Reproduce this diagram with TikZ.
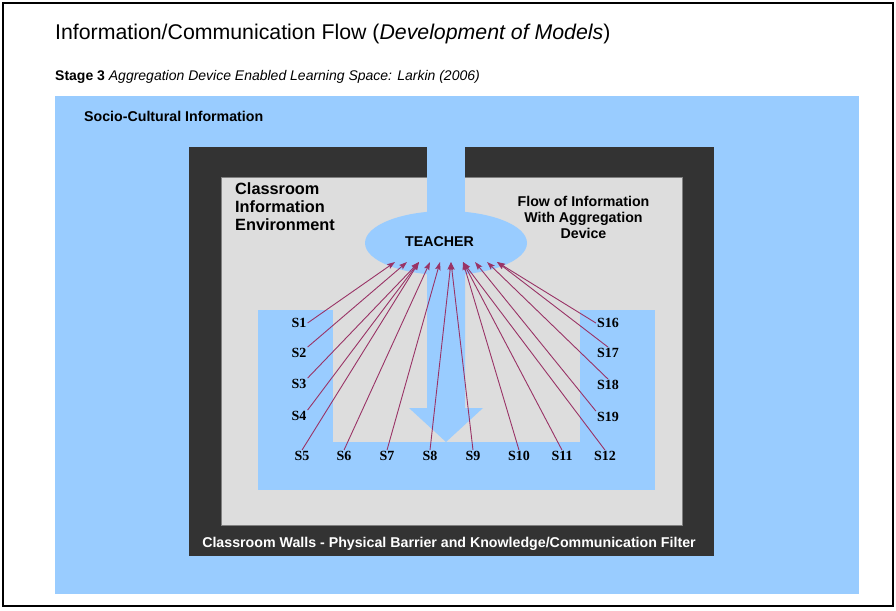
\documentclass[tikz,border=0pt]{standalone}
\usepackage{fontspec}
\setmainfont{Liberation Sans}
\newfontfamily\slabelfont{Liberation Serif}
\usetikzlibrary{arrows.meta,shapes.geometric}
\definecolor{skyfill}{HTML}{99CCFF}
\definecolor{wallgrey}{HTML}{333333}
\definecolor{roomgrey}{HTML}{DDDDDD}
\definecolor{flowred}{HTML}{993366}
\tikzset{
  slabel/.style={font=\slabelfont\bfseries\fontsize{14}{14}\selectfont, inner sep=1pt},
  flow/.style={draw=flowred, line width=0.9pt, -{Stealth[length=8pt,width=5.5pt,inset=1.5pt]}},
  boldtxt/.style={font=\bfseries\fontsize{14.2}{16}\selectfont, inner sep=0pt},
}
\begin{document}
\begin{tikzpicture}[x=1pt,y=-1pt]
\useasboundingbox (0,0) rectangle (896,610);
% page frame
\fill[white] (0,0) rectangle (896,610);
\draw[line width=2.5pt] (3,3) rectangle (893,606);

% socio-cultural surround
\fill[skyfill] (55,96) rectangle (859,594);
% classroom walls and floor
\fill[wallgrey] (189,147) rectangle (714,556);
\filldraw[fill=roomgrey, draw=gray, line width=0.6pt] (221,177) rectangle (682,525);
% U-shaped learning space
\fill[skyfill] (258,310) rectangle (655,490);
\fill[roomgrey] (333,310) rectangle (580,442);
% opening in the wall, channel, teacher and downward flow
\fill[skyfill] (427,146) rectangle (465,243);
\fill[skyfill] (427,243) -- (465,243) -- (465,408) -- (483,408) -- (446,442)
  -- (409,408) -- (427,408) -- cycle;
\node[ellipse, fill=skyfill, minimum width=162pt, minimum height=64pt, inner sep=0pt] (teacher) at (446,243) {};
\node[boldtxt, anchor=base] (teachertxt) at (439.5,246) {TEACHER};

% headings
\node[anchor=base west, inner sep=0pt, font=\fontsize{21.3}{24}\selectfont] (title) at (55,40)
  {Information/Communication Flow (\textit{Development of Models})};
\node[anchor=base west, inner sep=0pt, font=\fontsize{14}{16}\selectfont] (subtitle) at (55,80)
  {\textbf{Stage 3} \textit{Aggregation Device Enabled Learning Space: Larkin (2006)}};
\node[boldtxt, anchor=base west] (socio) at (84,121.5) {Socio-Cultural Information};
% multi-line labels: the base anchor sits on the last line
\node[anchor=base west, inner sep=0pt, align=left, font=\bfseries\fontsize{16.3}{18}\selectfont] (cie) at (235,230.5)
  {Classroom\\Information\\Environment};
\node[anchor=base, align=center, inner sep=0pt, font=\bfseries\fontsize{14.2}{16}\selectfont] (flowinfo) at (583.5,238)
  {Flow of Information\\With Aggregation\\Device};
\node[boldtxt, text=white, anchor=base] (walls) at (449,547)
  {Classroom Walls - Physical Barrier and Knowledge/Communication Filter};

% students
\node[slabel] (s1) at (299,323) {S1};
\node[slabel] (s2) at (299,353) {S2};
\node[slabel] (s3) at (299,384) {S3};
\node[slabel] (s4) at (299,416) {S4};
\node[slabel] (s5) at (302,456) {S5};
\node[slabel] (s6) at (344,456) {S6};
\node[slabel] (s7) at (387,456) {S7};
\node[slabel] (s8) at (430,456) {S8};
\node[slabel] (s9) at (473,456) {S9};
\node[slabel] (s10) at (519,456) {S10};
\node[slabel] (s11) at (562,456) {S11};
\node[slabel] (s12) at (605,456) {S12};
\node[slabel] (s16) at (608,323) {S16};
\node[slabel] (s17) at (608,353) {S17};
\node[slabel] (s18) at (608,385) {S18};
\node[slabel] (s19) at (608,417) {S19};

% arrival points on the teacher
\coordinate (t1) at (395,262);
\coordinate (t2) at (407,262);
\coordinate (t3) at (419,262);
\coordinate (t4) at (430,262);
\coordinate (t5) at (440,262);
\coordinate (t6) at (451,262);
\coordinate (t7) at (463,262);
\coordinate (t8) at (475,262);
\coordinate (t9) at (487,262);
\coordinate (t10) at (497,262);

% information flow from students to teacher
\draw[flow] (s1.east) -- (t1);
\draw[flow] (s2.north east) -- (t2);
\draw[flow] (s3.north east) -- (t3);
\draw[flow] (s4.north east) -- (t3);
\draw[flow] (s5.north) -- (t3);
\draw[flow] (s6.north) -- (t4);
\draw[flow] (s7.north) -- (t5);
\draw[flow] (s8.north) -- (t6);
\draw[flow] (s9.north) -- (t6);
\draw[flow] (s10.north) -- (t7);
\draw[flow] (s11.north) -- (t7);
\draw[flow] (s12.north) -- (t7);
\draw[flow] (s19.north west) -- (t8);
\draw[flow] (s18.north) -- (t9);
\draw[flow] (s17.north) -- (t10);
\draw[flow] (s16.west) -- (t10);
\end{tikzpicture}
\end{document}
